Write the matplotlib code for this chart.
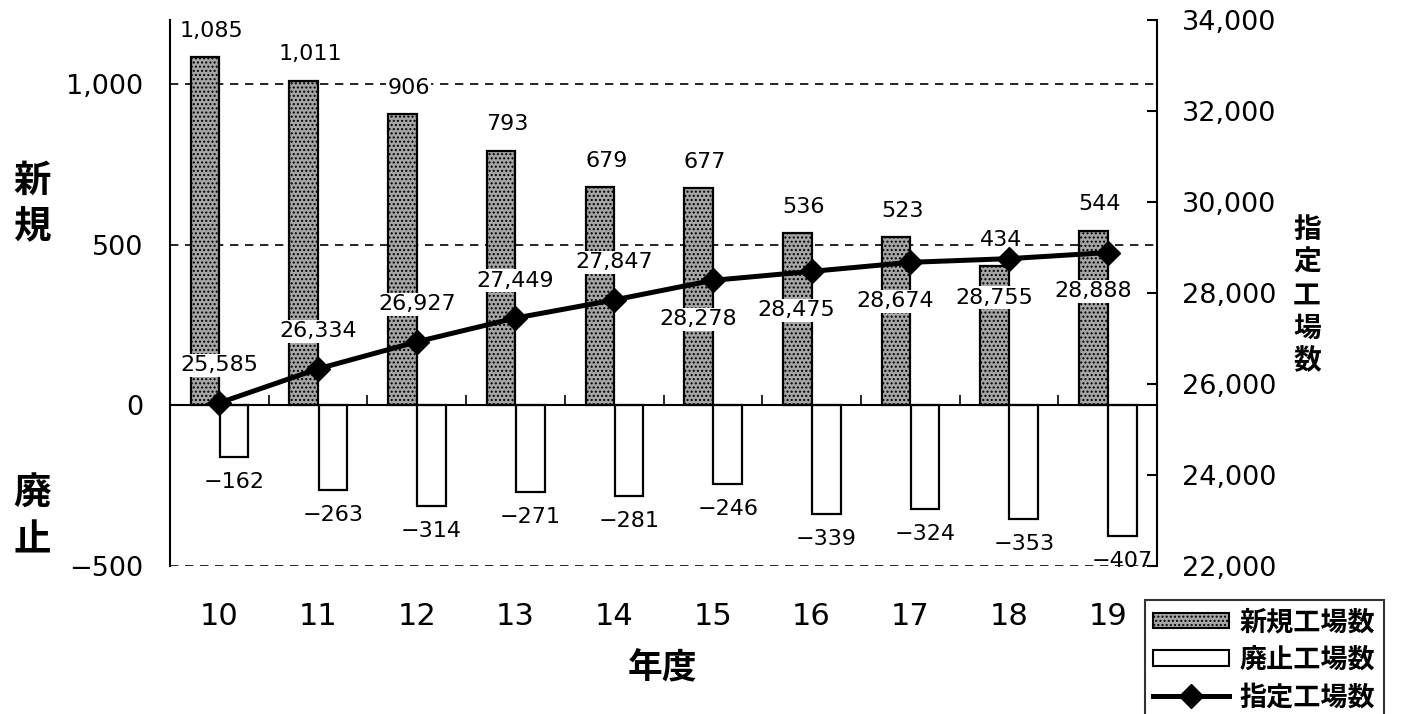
import matplotlib
matplotlib.use("Agg")
import matplotlib.pyplot as plt
import matplotlib.transforms as mtransforms
from matplotlib.patches import Patch
from matplotlib.lines import Line2D
from matplotlib.ticker import FuncFormatter, FixedLocator
import numpy as np

# ---- data ----
years = ["10", "11", "12", "13", "14", "15", "16", "17", "18", "19"]
new_factories = [1085, 1011, 906, 793, 679, 677, 536, 523, 434, 544]
closed_factories = [-162, -263, -314, -271, -281, -246, -339, -324, -353, -407]
designated = [25585, 26334, 26927, 27449, 27847, 28278, 28475, 28674, 28755, 28888]
left_ticks = [-500, 0, 500, 1000]
right_ticks = [22000, 24000, 26000, 28000, 30000, 32000, 34000]
legend_labels = ["新規工場数", "廃止工場数", "指定工場数"]

NUM = "DejaVu Sans"
JP = ["Noto Sans CJK JP", "DejaVu Sans"]

def fmt(v):
    return f"{v:,.0f}".replace("-", "\u2212")

fig = plt.figure(figsize=(14.03, 7.14), dpi=100)
ax = fig.add_axes([170 / 1403, 1 - 566 / 714, (1157 - 170) / 1403, (566 - 20) / 714])
ax2 = ax.twinx()

x = np.arange(len(years))
w = 0.29
gray = "#a6a6a6"

ax.bar(x - 0.145, new_factories, width=w, facecolor=gray, edgecolor="black",
       linewidth=1.6, hatch="....", zorder=2)
ax.bar(x + 0.15, closed_factories, width=w, facecolor="white", edgecolor="black",
       linewidth=1.6, zorder=2)

ax.set_xlim(-0.5, len(years) - 0.5)
ax.set_ylim(-500, 1200)
ax.yaxis.set_major_locator(FixedLocator(left_ticks))
ax.yaxis.set_major_formatter(FuncFormatter(lambda v, p: fmt(v)))
ax.tick_params(axis="y", length=0, pad=19, labelsize=19.5)
for t in ax.get_yticklabels():
    t.set_fontfamily(NUM)

# gridlines
for v in left_ticks:
    if v != 0:
        ax.axhline(v, color="black", linestyle=(0, (5, 4)), linewidth=1.2, zorder=0.5)

# spines
ax.spines["top"].set_visible(False)
ax.spines["right"].set_visible(False)
ax.spines["bottom"].set_position(("data", 0))
ax.spines["bottom"].set_linewidth(1.5)
ax.spines["left"].set_linewidth(1.5)
ax.set_xticks(np.arange(0.5, len(years) - 0.5, 1.0))
ax.set_xticklabels([])
ax.tick_params(axis="x", direction="in", length=7, width=1.2)

trans = mtransforms.blended_transform_factory(ax.transData, ax.transAxes)
for i, y in enumerate(years):
    ax.text(i, -0.0916, y, transform=trans, ha="center", va="center",
            fontsize=22, family=NUM)

# bar labels
for i, v in enumerate(new_factories):
    ax.annotate(fmt(v), (i - 0.08, v), xytext=(0, 19), textcoords="offset points",
                ha="center", va="center", fontsize=16, family=NUM, zorder=3,
                bbox=dict(facecolor="white", edgecolor="none", pad=1))
for i, v in enumerate(closed_factories):
    ax.annotate(fmt(v), (i + 0.15, v), xytext=(0, -18), textcoords="offset points",
                ha="center", va="center", fontsize=16, family=NUM, zorder=3)

# right axis
ax2.set_ylim(22000, 34000)
ax2.yaxis.set_major_locator(FixedLocator(right_ticks))
ax2.yaxis.set_major_formatter(FuncFormatter(lambda v, p: fmt(v)))
ax2.tick_params(axis="y", direction="in", length=7, width=1.5, pad=18, labelsize=19.5)
for t in ax2.get_yticklabels():
    t.set_fontfamily(NUM)
for s in ["top", "bottom", "left"]:
    ax2.spines[s].set_visible(False)
ax2.spines["right"].set_linewidth(1.5)

ax2.plot(x, designated, color="black", linewidth=3.6, marker="D", markersize=12,
         zorder=4)
for i, v in enumerate(designated):
    above = i < 5
    dy = 27 if above else -28
    ax2.annotate(fmt(v), (i if above else i - 0.15, v), xytext=(0, dy),
                 textcoords="offset points", ha="center", va="center",
                 fontsize=16, family=NUM, zorder=3,
                 bbox=dict(facecolor="white", edgecolor="none", pad=1))

# side labels
def vtext(chars, xc, ys, size):
    for c, yy in zip(chars, ys):
        fig.text(xc / 1403, 1 - yy / 714, c, ha="center", va="center",
                 fontsize=size, family=JP, fontweight="bold")

vtext("新規", 32, [180, 227], 27)
vtext("廃止", 32, [493, 540], 27)
vtext("指定工場数", 1307, [229.5, 262.5, 295.5, 328.5, 361.5], 20)
fig.text(662 / 1403, 1 - 668 / 714, "年度", ha="center", va="center",
         fontsize=25, family=JP, fontweight="bold")

# legend
handles = [
    Patch(facecolor=gray, edgecolor="black", hatch="....", linewidth=1.5),
    Patch(facecolor="white", edgecolor="black", linewidth=1.5),
    Line2D([], [], color="black", linewidth=3.6, marker="D", markersize=12),
]
leg = fig.legend(handles, legend_labels, loc="upper left",
                 bbox_to_anchor=(1145 / 1403, 1 - 600 / 714),
                 prop={"family": JP, "size": 19.5, "weight": "bold"},
                 frameon=True, fancybox=False, edgecolor="black",
                 handlelength=2.8, handleheight=0.5, handletextpad=0.4,
                 borderpad=0.3, labelspacing=0.35, borderaxespad=0)
leg.get_frame().set_linewidth(1.5)

fig.savefig("out.png", dpi=100)
